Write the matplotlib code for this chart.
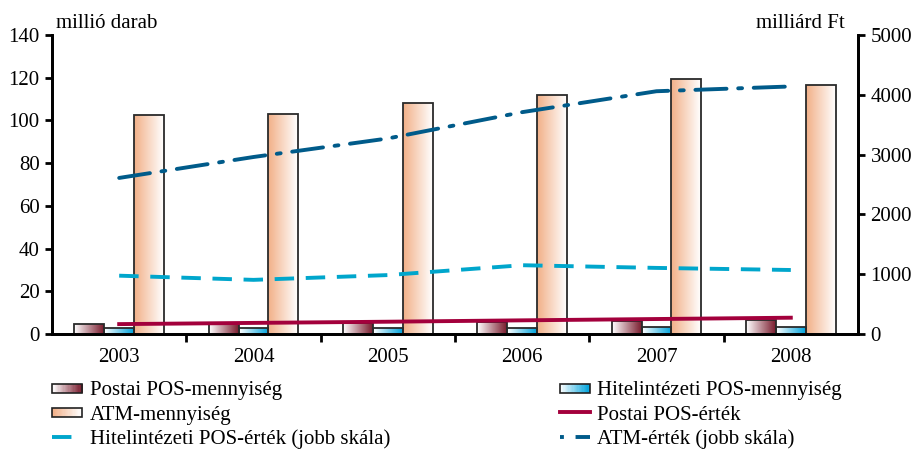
import numpy as np
import matplotlib
matplotlib.use("Agg")
import matplotlib.pyplot as plt
from matplotlib.patches import Rectangle
from matplotlib.legend_handler import HandlerPatch
from matplotlib.colors import LinearSegmentedColormap
from matplotlib.lines import Line2D

plt.rcParams['font.family'] = ['Liberation Serif', 'DejaVu Serif']
plt.rcParams['font.size'] = 15

years = ['2003', '2004', '2005', '2006', '2007', '2008']
postai_db = [4.5, 4.5, 5.0, 5.5, 6.0, 6.5]
hitel_db = [2.6, 2.6, 2.7, 2.7, 3.1, 3.1]
atm_db = [102.5, 103.0, 108.0, 112.0, 119.3, 116.8]
postai_ft = [165, 185, 205, 228, 250, 272]
hitel_ft = [975, 905, 985, 1150, 1105, 1070]
atm_ft = [2610, 2960, 3270, 3710, 4060, 4140]

# gradient colours (left -> right)
grad_postai = ['#ffffff', '#7a1c2e']
grad_hitel = ['#ffffff', '#00a3dc']
grad_atm = ['#f2b088', '#ffffff']


def cmap_of(cols):
    return LinearSegmentedColormap.from_list('g', cols)


class GradHandler(HandlerPatch):
    def __init__(self, cols, **kw):
        super().__init__(**kw)
        self.cols = cols

    def create_artists(self, legend, orig_handle, xdescent, ydescent,
                       width, height, fontsize, trans):
        cm = cmap_of(self.cols)
        n = 24
        x0, y0 = -xdescent, -ydescent + height * 0.2
        h = height * 0.6
        arts = []
        for i in range(n):
            r = Rectangle((x0 + width * i / n, y0), width / n + 0.3, h,
                          facecolor=cm(i / (n - 1)), edgecolor='none',
                          transform=trans)
            arts.append(r)
        arts.append(Rectangle((x0, y0), width, h, facecolor='none',
                              edgecolor='#222222', lw=1.2, transform=trans))
        return arts


fig = plt.figure(figsize=(9.19, 4.55), dpi=100)
ax = fig.add_axes([0.0566, 0.266, 0.877, 0.657])
ax2 = ax.twinx()

x = np.arange(len(years)) + 0.5
bw = 0.223


def grad_bars(xs, vals, cols):
    cm = cmap_of(cols)
    grad = np.linspace(0, 1, 64).reshape(1, -1)
    for xc, v in zip(xs, vals):
        rect = Rectangle((xc - bw / 2, 0), bw, v, facecolor='none',
                         edgecolor='#2a2a2a', lw=1.3, zorder=3)
        ax.add_patch(rect)
        im = ax.imshow(grad, cmap=cm, aspect='auto',
                       extent=(xc - bw / 2, xc + bw / 2, 0, v), zorder=2)
        im.set_clip_path(rect)


grad_bars(x - bw, postai_db, grad_postai)
grad_bars(x, hitel_db, grad_hitel)
grad_bars(x + bw, atm_db, grad_atm)

ax2.plot(x, postai_ft, color='#a3003c', lw=2.8, zorder=4)
ax2.plot(x, hitel_ft, color='#00a6cc', lw=2.8, dashes=(5, 3), zorder=4)
ax2.plot(x, atm_ft, color='#005b8a', lw=2.8, dashes=(8, 3, 1, 3),
         dash_capstyle='round', zorder=4)

ax.set_xlim(0, 6)
ax.set_ylim(0, 140)
ax2.set_ylim(0, 5000)
ax.set_yticks(np.arange(0, 141, 20))
ax2.set_yticks(np.arange(0, 5001, 1000))
ax.set_xticks(x)
ax.set_xticklabels(years)
ax.set_xticks(np.arange(1, 6), minor=True)
ax.tick_params(axis='x', which='major', length=0, pad=10)
ax.tick_params(axis='x', which='minor', length=6, width=2, direction='out')
ax.tick_params(axis='y', length=5, width=2, direction='out', pad=4)
ax2.tick_params(axis='y', length=5, width=2, direction='out', pad=4)

for a in (ax, ax2):
    a.spines['top'].set_visible(False)
    for s in ('left', 'right', 'bottom'):
        a.spines[s].set_linewidth(2)
ax2.set_zorder(ax.get_zorder() + 1)
ax2.patch.set_visible(False)

fig.text(0.061, 0.97, 'millió darab', ha='left', va='top')
fig.text(0.919, 0.97, 'milliárd Ft', ha='right', va='top')

h_postai = Rectangle((0, 0), 1, 1)
h_hitel = Rectangle((0, 0), 1, 1)
h_atm = Rectangle((0, 0), 1, 1)
l_postai = Line2D([], [], color='#a3003c', lw=2.8)
l_hitel = Line2D([], [], color='#00a6cc', lw=2.8, dashes=(5, 3))
l_atm = Line2D([], [], color='#005b8a', lw=2.8, dashes=(1, 3, 6, 3))

hmap = {h_postai: GradHandler(grad_postai),
        h_hitel: GradHandler(grad_hitel),
        h_atm: GradHandler(grad_atm)}
common = dict(loc='upper left', frameon=False, handlelength=1.45,
              handletextpad=0.35, labelspacing=0.22, borderpad=0,
              borderaxespad=0, handler_map=hmap)

fig.legend([h_postai, h_atm, l_hitel],
           ['Postai POS-mennyiség', 'ATM-mennyiség',
            'Hitelintézeti POS-érték (jobb skála)'],
           bbox_to_anchor=(0.0566, 0.163), **common)
fig.legend([h_hitel, l_postai, l_atm],
           ['Hitelintézeti POS-mennyiség', 'Postai POS-érték',
            'ATM-érték (jobb skála)'],
           bbox_to_anchor=(0.609, 0.163), **common)

fig.savefig('out.png', dpi=100)
